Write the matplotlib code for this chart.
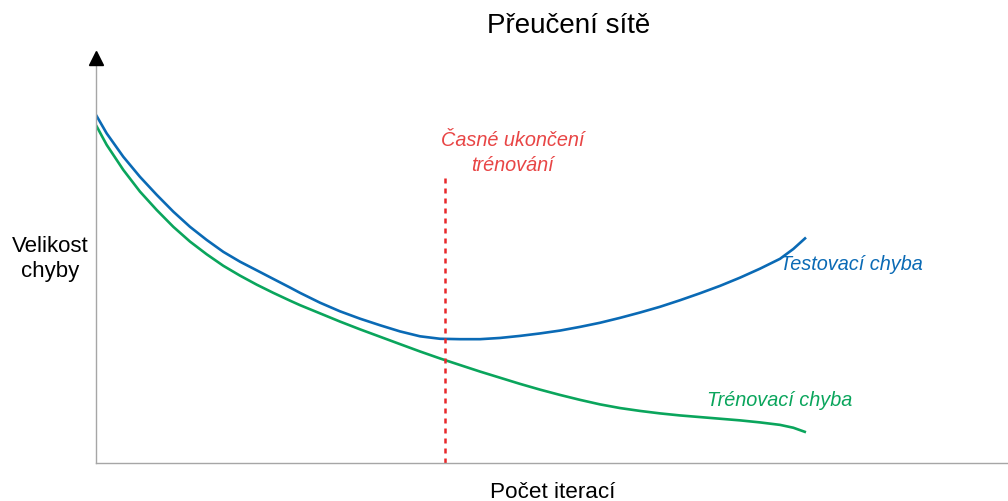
import numpy as np
import matplotlib
matplotlib.use("Agg")
import matplotlib.pyplot as plt

plt.rcParams['font.family'] = ['Liberation Sans', 'DejaVu Sans']

# iterace (0-100) a velikost chyby (0-100)
test_x = [0.0, 1.17, 2.99, 4.82, 6.66, 8.48, 10.31, 12.14, 13.96, 15.79, 17.62, 19.44, 21.27,
          22.37, 24.56, 26.75, 28.95, 31.14, 33.33, 35.53, 37.72, 39.91, 42.11, 44.30, 46.49,
          48.68, 50.88, 53.07, 55.26, 57.46, 59.65, 61.84, 64.04, 66.23, 68.42, 70.61, 72.81,
          75.0, 76.46, 77.85]
test_y = [84.9, 80.4, 74.7, 69.8, 65.4, 61.3, 57.6, 54.4, 51.5, 49.1, 47.0, 44.9, 42.8,
          41.5, 39.1, 37.0, 35.2, 33.6, 32.1, 30.9, 30.3, 30.2, 30.2, 30.5, 31.0,
          31.6, 32.3, 33.2, 34.2, 35.4, 36.7, 38.1, 39.7, 41.4, 43.2, 45.2, 47.4,
          49.8, 52.2, 55.0]

train_x = [0.0, 1.17, 2.99, 4.82, 6.66, 8.48, 10.31, 12.14, 13.96, 15.79, 17.62, 19.44, 21.27,
           22.37, 24.56, 26.75, 28.95, 31.14, 33.33, 35.53, 37.72, 39.91, 42.11, 44.30, 46.49,
           48.68, 50.88, 53.07, 55.26, 57.46, 59.65, 61.84, 64.04, 66.23, 68.42, 70.61, 72.81,
           75.0, 76.46, 77.85]
train_y = [82.4, 77.6, 71.5, 66.2, 61.7, 57.6, 54.0, 50.9, 48.1, 45.7, 43.5, 41.5, 39.6,
           38.5, 36.5, 34.5, 32.6, 30.8, 29.0, 27.2, 25.5, 23.9, 22.3, 20.8, 19.3,
           17.9, 16.6, 15.4, 14.3, 13.4, 12.7, 12.1, 11.6, 11.2, 10.8, 10.4, 9.9,
           9.3, 8.6, 7.5]

stop_x = 38.3
stop_top = 69.8

blue = '#0a6ab5'
green = '#0aa55c'
red = '#e8282b'

fig = plt.figure(figsize=(10.08, 5.01), dpi=100)
ax = fig.add_axes([96 / 1008, 38 / 501, 912 / 1008, 410 / 501])
ax.set_xlim(0, 100)
ax.set_ylim(0, 100)

ax.plot(test_x, test_y, color=blue, lw=1.9, solid_capstyle='butt', solid_joinstyle='round')
ax.plot(train_x, train_y, color=green, lw=1.9, solid_capstyle='butt', solid_joinstyle='round')
ax.plot([stop_x, stop_x], [0, stop_top], color=red, lw=1.8, ls=(0, (2, 2)))

for s in ['top', 'right']:
    ax.spines[s].set_visible(False)
for s in ['left', 'bottom']:
    ax.spines[s].set_color('#a6a6a6')
    ax.spines[s].set_linewidth(1.0)
ax.set_xticks([])
ax.set_yticks([])

# šipka osy y
ax.plot(0, 98.8, marker='^', color='black', ms=9.5, clip_on=False, zorder=5)

ax.text(45.7, 75.6, 'Časné ukončení\ntrénování', color='#e84545', fontsize=14.3, style='italic',
        ha='center', va='center', linespacing=1.35)
ax.text(75.0, 48.5, 'Testovací chyba', color=blue, fontsize=14.3, style='italic', ha='left', va='center')
ax.text(67.0, 15.2, 'Trénovací chyba', color=green, fontsize=14.3, style='italic', ha='left', va='center')

fig.text(569 / 1008, 1 - 26 / 501, 'Přeučení sítě', fontsize=20, ha='center', va='center')
fig.text(50 / 1008, 1 - 259 / 501, 'Velikost\nchyby', fontsize=16, ha='center', va='center', linespacing=1.3)
fig.text(553 / 1008, 1 - 492 / 501, 'Počet iterací', fontsize=16.2, ha='center', va='center')

fig.savefig('out.png', dpi=100)
